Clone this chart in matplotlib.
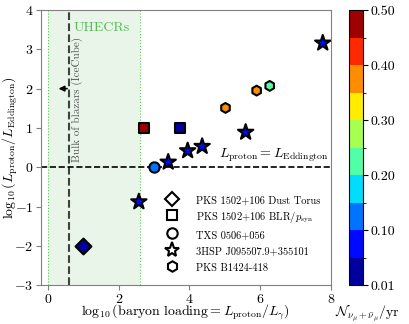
import numpy as np
import matplotlib
matplotlib.use("Agg")
import matplotlib.pyplot as plt
from matplotlib.colors import ListedColormap, BoundaryNorm
from matplotlib.lines import Line2D

plt.rcParams["font.family"] = "serif"
plt.rcParams["font.serif"] = ["cmr10"]
plt.rcParams["mathtext.fontset"] = "cm"
plt.rcParams["axes.formatter.use_mathtext"] = True

# -----------------------------
# Datos
# -----------------------------
torus_x = [1.0]
torus_y = [-2.0]
torus_n = [0.02]

blr_x = [2.72, 3.74]
blr_y = [1.0, 1.0]
blr_n = [0.48, 0.03]

txs_x = [3.0]
txs_y = [0.0]
txs_n = [0.12]

hsp_x = [2.57, 3.40, 3.95, 4.36, 5.59, 7.77]
hsp_y = [-0.88, 0.13, 0.42, 0.53, 0.89, 3.16]
hsp_n = [0.07, 0.07, 0.07, 0.07, 0.07, 0.07]

b1424_x = [5.02, 5.90, 6.27]
b1424_y = [1.51, 1.95, 2.07]
b1424_n = [0.37, 0.37, 0.22]

etiquetas = ["PKS 1502+106 Dust Torus",
             r"PKS 1502+106 BLR/$p_{\rm syn}$",
             "TXS 0506+056",
             "3HSP J095507.9+355101",
             "PKS B1424-418"]
marcadores = ["D", "s", "o", "*", "h"]

cbar_ticks = [0.0, 0.1, 0.2, 0.3, 0.4, 0.5]
cbar_labels = ["0.01", "0.10", "0.20", "0.30", "0.40", "0.50"]

# -----------------------------
# Colormap discreto
# -----------------------------
cmap = ListedColormap(plt.get_cmap("jet")(np.linspace(0.03, 0.97, 10)))
norm = BoundaryNorm(np.linspace(0, 0.5, 11), cmap.N)

fig = plt.figure(figsize=(4.09, 3.24), dpi=100)
ax = fig.add_axes([0.100, 0.120, 0.709, 0.849])
cax = fig.add_axes([0.853, 0.120, 0.035, 0.849])

# zona UHECR
ax.axvspan(0, 2.6, color="#2ca02c", alpha=0.1, lw=0)
ax.axvline(0, color="#55cc55", ls=":", lw=0.8)
ax.axvline(2.6, color="#55cc55", ls=":", lw=0.8)
ax.text(0.73, 3.55, "UHECRs", color="#55bb55", fontsize=10, va="center")

ax.axvline(0.6, color="#404040", ls="--", lw=1.5)
ax.text(0.84, 0.14, "Bulk of blazars (IceCube)", rotation=90, color="#555555",
        fontsize=8, ha="center", va="bottom")
ax.annotate("", xy=(0.22, 2.0), xytext=(0.62, 2.0),
            arrowprops=dict(arrowstyle="-|>", color="black", lw=1.2,
                            mutation_scale=8))

ax.axhline(0, color="black", ls="--", lw=1.2)
ax.text(7.95, 0.08, r"$L_{\rm proton} = L_{\rm Eddington}$", ha="right",
        va="bottom", fontsize=10)

kw = dict(cmap=cmap, norm=norm, edgecolors="black", linewidths=1.5, zorder=5)
ax.scatter(torus_x, torus_y, c=torus_n, marker="D", s=65, **kw)
ax.scatter(blr_x, blr_y, c=blr_n, marker="s", s=55, **kw)
ax.scatter(txs_x, txs_y, c=txs_n, marker="o", s=55, **kw)
ax.scatter(hsp_x, hsp_y, c=hsp_n, marker="*", s=135, **kw)
sc = ax.scatter(b1424_x, b1424_y, c=b1424_n, marker="h", s=50, **kw)

handles = [Line2D([], [], ls="", marker=m, markerfacecolor="white",
                  markeredgecolor="black", markeredgewidth=1.5,
                  markersize=11 if m == "*" else 7.5)
           for m in marcadores]
ax.legend(handles, etiquetas, loc="lower right", frameon=False, fontsize=7.5,
          handletextpad=1.3, handleheight=1.6, labelspacing=0.3,
          borderaxespad=0.6)

ax.set_xlim(-0.2, 8)
ax.set_ylim(-3, 4)
ax.set_xticks([0, 2, 4, 6, 8])
ax.set_yticks(range(-3, 5))
ax.set_xlabel(r"$\log_{10}({\rm baryon\ loading} = L_{\rm proton}/L_{\gamma})$",
              fontsize=10)
ax.set_ylabel(r"$\log_{10}(L_{\rm proton}/L_{\rm Eddington})$", fontsize=10)
ax.xaxis.set_label_coords(0.5, -0.063)
ax.yaxis.set_label_coords(-0.072, 0.5)
for s in ax.spines.values():
    s.set_color("#808080")
ax.tick_params(colors="#808080", labelcolor="black", labelsize=10, pad=2)

cb = fig.colorbar(sc, cax=cax, ticks=cbar_ticks)
cb.ax.set_yticklabels(cbar_labels)
cb.ax.tick_params(labelsize=10, pad=2)
cb.ax.set_xlabel(r"$\mathcal{N}_{\nu_\mu+\bar{\nu}_\mu}/{\rm yr}$", fontsize=10)
cb.ax.xaxis.set_label_coords(1.3, -0.063)

fig.savefig("out.png", dpi=100)
